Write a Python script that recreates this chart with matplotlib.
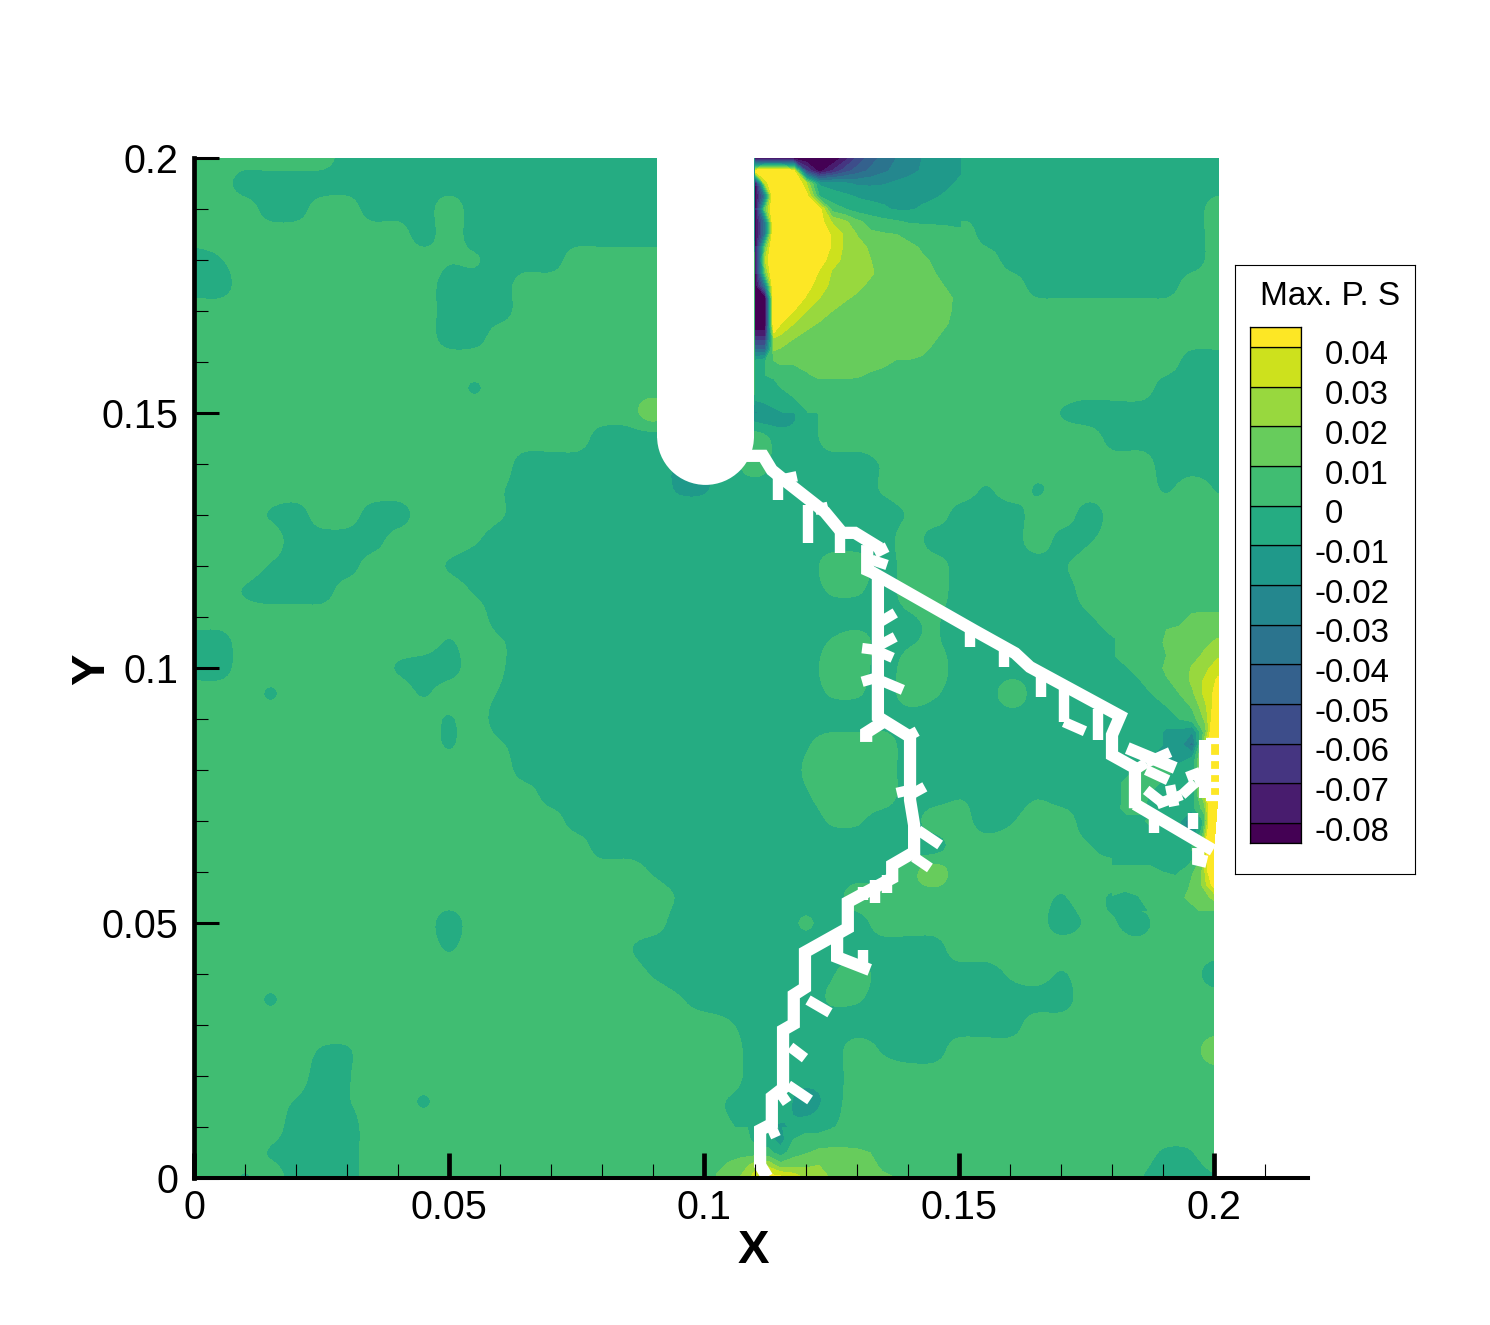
import numpy as np
import matplotlib
matplotlib.use("Agg")
import matplotlib.pyplot as plt
from matplotlib.patches import Rectangle, Wedge
from matplotlib.ticker import MultipleLocator, FixedLocator, FixedFormatter

plt.rcParams['font.family'] = ['Liberation Sans', 'DejaVu Sans']

levels = [-0.08, -0.07, -0.06, -0.05, -0.04, -0.03, -0.02, -0.01, 0, 0.01, 0.02, 0.03, 0.04]
level_labels = ['-0.08', '-0.07', '-0.06', '-0.05', '-0.04', '-0.03', '-0.02', '-0.01', '0', '0.01', '0.02', '0.03', '0.04']
x_ticks = [0, 0.05, 0.1, 0.15, 0.2]
tick_labels = ['0', '0.05', '0.1', '0.15', '0.2']

# band code -> field value in 0.001 units
codes = {'.': 5, '#': -5, 't': -15, 'u': -11, 'e': -1, 'c': 1, 'm': 15}

# field on a 0.005 grid, top row y = 0.2, columns x = 0 .. 0.2
coarse_rows = [
 "..... .#### ##### ##### ##ttt ttttt ##### ##### #",
 "..### ##### ##### ##### ##ttt ttttt ##### ##### #",
 "...## ..### .#### ##### ##ttt ttttt ##### ##### .",
 "..... ....# .#### ##### ##ttt ttttt .#### ##### .",
 "#e... ..... cc### ..... ..... ..... ..### ##### .",
 "##... ..... ###.. ..... ..... ..... ...## ####. .",
 "..... ..... ###.. ..... ..... ..... ..... ..... .",
 "..... ..... ##... ..... ..... ..... ..... ..... .",
 "..... ..... ..... ..... ..... ..... ..... ....# #",
 "..... ..... .e... ..... ..... ..... ..... ...## #",
 "..... ..... ..... ...m. ..tt# ..... ....e ##### #",
 "..... ..... ..... .#### ##.## ..... ..... .#### #",
 "..... ..... ...## ####u u#.## ##c.. ..... ...## #",
 "..... ..... ..c## ####u u#### ##c.. .e.e. ...e. e",
 "...e# ..##. ..c## ##### ##### ###c. ###.. #.... .",
 "....# ###.. .c### ##### ##### ###.# ###.# e.... .",
 "...e# ##... e#### ##### ##### ..#.. ####e ..... .",
 "..e## #.... .e### ##### ##### cc#.. ##### ..... .",
 "..... ..... ..### ##### ##### ###ec ##### e.... .",
 "##... ..... e.c## ##### ##### c.#ec ##### #e... .",
 "##... ...e# #.c## ##### ##### ..#.. ##### ##... .",
 "...e. ....e ..e## ##### ##### cc#.c ##.## ###.. .",
 "..... ..... e.### ##### ##### ##### ##### ##... .",
 "..... ..... e.c## ##### ####e ...## ##### ##... .",
 "..... ..... ...## ##### ####c ...## ##### ##... .",
 "..... ..... ....# ##### ####e ...## e##e# ##... .",
 "..... ..... ..... ##### ##### cc##. .#e.. ###.. .",
 "..... ..... ..... .#### ##### ##### ..... c###. .",
 "..... ..... ..... ...e# ##### ###.m ..... ..... .",
 "..... ..... ..... ....e ##### #.... ....e .e... .",
 "..... ..... #.... ....# ####c ##... ....# cc#.. .",
 "..... ..... e.... ..c## ##### ##### ..... ..... .",
 "..... ..... ..... ...e# ##### e.### ##c.e ..... #",
 "...e. ..... ..... ....c ##### cc### ##### ..... .",
 "..... ..... ..... ..... .c### ##### ###.. ..... .",
 "..... ee... ..... ..... ..### #.e## ..... ..... m",
 "..... #e... ..... ..... ..### #.... ..... ..... .",
 "....e #e..e ..... ..... .e##t #.... ..... ..... .",
 "....# ##... ..... ..... .c#u# e.... ..... ..... .",
 "...e# ##... ..... ..... ..#t. ..... ..... ...ee .",
 "..e.# ##... ..... ..... ..... ..... ..... ..c## e",
]

# fine field right of the notch, columns notch_x, y = 0.2 .. 0.15 in steps of 0.0025
notch_x = [0.11, 0.11196, 0.1137, 0.115, 0.1175, 0.12, 0.1225, 0.125, 0.1275, 0.13, 0.1325, 0.135, 0.1375, 0.14, 0.1425, 0.145, 0.1475, 0.15]
notch_field = [
 [-90,-90,-90,-90,-90,-90,-90,-90,-75,-57,-45,-36,-30,-25,-20,-17,-14,-12],
 [45,60,60,60,45,-60,-85,-70,-55,-45,-38,-32,-27,-23,-19,-15,-14,-11],
 [-90,30,60,60,60,30,-12,-15,-18,-22,-22,-21,-18,-16,-15,-14,-12,-8],
 [-90,-31,60,60,60,45,0,-5,-8,-11,-12,-12,-13,-12,-12,-11,-8,-5],
 [-90,15,60,60,60,60,45,5,0,-5,-7,-9,-11,-11,-9,-6,-4,-3],
 [-90,-31,60,60,60,60,46,29,22,12,6,3,1,-1,-1,-1,-1,-1],
 [-90,-31,60,60,60,60,50,38,28,19,12,11,10,7,4,3,2,1],
 [-90,15,60,60,60,60,52,38,28,24,18,14,12,12,9,6,4,2],
 [-90,30,60,60,60,60,47,33,28,24,20,15,14,13,11,9,5,3],
 [-90,15,60,60,60,55,38,29,26,24,21,17,14,13,12,10,6,4],
 [-90,-31,60,60,60,45,34,28,25,22,18,15,14,13,13,12,9,7],
 [-90,-90,60,60,50,38,30,25,21,18,16,15,14,14,13,13,11,8],
 [-90,-90,60,50,40,30,25,20,17,15,15,15,15,15,15,14,11,7],
 [-90,-90,60,40,30,23,19,16,15,15,15,15,15,15,15,13,10,5],
 [-70,-70,31,28,21,17,15,15,15,15,15,15,15,15,14,11,7,3],
 [-40,-40,21,19,15,15,15,15,15,15,15,15,14,14,12,8,5,3],
 [-5,0,9,12,11,13,14,14,14,13,13,12,9,9,8,6,4,3],
 [-3,0,1,3,6,9,12,12,12,11,9,7,6,5,5,5,4,3],
 [-5,-4,-2,0,3,6,6,6,6,6,6,6,5,5,5,5,5,5],
 [-10,-8,-6,-5,-1,3,5,5,5,5,5,5,5,5,5,5,5,5],
 [-22,-17,-13,-11,-6,-1,5,5,5,5,5,5,5,5,5,5,5,5],
]

# fine field at the right edge: x = 0.18 .. 0.2, y = 0.115 .. 0.0525, step 0.0025
edge_field = [
 [5,5,5,5,5,5,5,5,5],
 [5,5,5,5,5,5,5,5,5],
 [5,5,5,5,5,5,12,13,13],
 [5,5,5,5,10,12,14,15,16],
 [5,5,5,5,12,15,16,18,22],
 [0,5,5,5,10,15,16,22,28],
 [-5,0,5,5,12,15,21,27,36],
 [-5,-5,0,5,9,13,22,32,42],
 [-5,-5,-5,1,5,10,18,33,45],
 [-5,-5,-5,-5,0,5,11,28,50],
 [-5,-5,-5,-5,-5,0,5,22,60],
 [-5,-5,-5,-5,-12,-13,-20,15,80],
 [-5,-5,-5,-5,-12,-15,-35,30,90],
 [-5,-5,-5,-12,-12,-15,-10,35,90],
 [-5,-5,5,5,5,-5,-5,35,90],
 [-5,5,5,5,-5,-5,-5,35,90],
 [-5,5,5,-5,-5,-5,-5,30,90],
 [-5,5,5,-5,-5,-5,-5,15,90],
 [-5,-5,-5,5,-5,-5,-30,0,90],
 [-5,-5,-5,-5,-5,-5,-25,5,90],
 [-5,-5,-5,-5,-5,-5,-5,15,90],
 [-5,-5,-5,-5,-5,-5,-5,10,80],
 [5,5,5,5,0,-2,5,18,60],
 [5,5,5,5,5,5,9,20,45],
 [-1,-5,-1,5,5,5,12,16,22],
 [-3,-5,-5,1,5,5,5,11,12],
]

# fine field at the crack foot: x = 0.1025 .. 0.1375, y = 0 .. 0.01, step 0.0025
foot_field = [
 [5,5,3,-5,-5,-11,-5,-5,-5,-1,5,5,5,5,5],
 [5,5,5,-3,-5,-15,0,5,5,5,5,5,5,5,5],
 [5,5,6,5,3,-5,5,9,12,13,13,12,10,6,5],
 [6,12,16,24,28,14,17,18,20,17,16,15,13,8,5],
 [12,15,22,36,45,45,38,28,25,19,18,16,14,12,10],
]

# crack centre lines, 0.001 units
crack_a_x = [108.0,111.6,113.3,114.9,123.7,127.1,129.6,134.5]
crack_a_y = [141.6,141.6,138.8,137.5,130.6,126.5,126.5,123.5]
crack_b_x = [132.0,132.0,132.9,153.1,161.0,163.9,181.6,180.0,180.0,184.5,184.5]
crack_b_y = [124.1,119.2,118.8,107.3,102.9,100.2,90.6,86.9,82.9,80.4,72.5]
crack_c_x = [134.1,134.1,140.4,140.4,141.2,141.2,136.9,136.9,128.2,128.2,119.8,119.8,117.6,117.6,115.5,115.5,113.3,113.3,111.0,111.0,112.4]
crack_c_y = [117.6,90.4,86.5,74.1,69.2,63.9,61.4,58.8,54.1,49.0,44.3,37.3,35.9,30.2,29.0,17.6,15.9,10.6,9.4,2.5,0.2]
crack_d_x = [184.5,199.8]
crack_d_y = [73.3,64.3]
crack_e_x = [183.0,192.4]
crack_e_y = [84.3,80.4]
crack_f_x = [196.9,196.9,198.6]
crack_f_y = [64.7,62.4,62.0]
crack_g_x = [198.2,198.2]
crack_g_y = [85.9,74.5]
crack_h_x = [135.1,131.8,131.8]
crack_h_y = [89.4,87.3,85.5]
crack_i_x = [126.1,126.1,132.5]
crack_i_y = [47.6,43.3,40.8]

# short side branches: x0, y0, x1, y1 in 0.001 units
branches = [
 (114.9,136.9,118.2,137.6),(114.5,137.5,114.5,132.9),(120.4,132.0,120.4,124.5),(121.8,131.0,124.3,131.6),
 (126.7,127.5,126.7,122.5),(133.5,122.5,135.9,123.7),(132.9,121.2,135.9,120.2),
 (134.5,109.0,137.5,110.8),(134.5,104.5,137.5,106.1),(134.1,103.5,131.0,103.9),(134.5,103.1,137.0,102.0),
 (134.1,98.2,131.0,97.3),(134.5,97.6,139.0,95.7),(139.8,86.5,141.8,87.6),
 (140.4,76.1,137.8,75.5),(140.4,75.1,143.3,76.7),(142.0,68.2,146.3,65.3),(141.2,62.9,144.3,60.8),
 (135.9,59.4,135.9,55.9),(133.5,58.5,133.5,53.9),(131.2,57.0,131.2,54.5),(131.2,44.7,131.2,41.5),
 (120.4,34.9,124.7,32.4),(116.9,25.7,119.8,23.5),(116.5,18.2,120.8,15.3),(114.5,17.3,116.3,14.7),(113.3,9.8,114.1,8.0),
 (152.2,108.0,152.2,104.1),(158.8,104.0,158.8,100.2),(166.1,99.0,166.1,94.3),(170.6,96.0,170.6,89.4),
 (170.6,89.4,174.7,87.6),(177.3,92.0,177.3,85.9),
 (191.4,83.5,186.7,81.4),(186.7,81.4,184.5,80.0),(186.7,80.0,191.0,78.0),
 (188.8,73.3,193.7,75.1),(193.7,75.1,196.3,77.5),(196.3,77.5,198.4,78.4),
 (186.7,76.1,190.0,73.5),(194.7,78.6,197.3,79.6),(188.2,70.8,188.2,67.6),(191.4,77.0,192.2,72.9),(195.9,71.6,195.9,68.4),
]
edge_teeth_y = [85.7,82.4,79.6,77.1,74.5]

band_colors = matplotlib.colormaps['viridis'](np.linspace(0, 1, len(levels) + 1))

W, H = 1490, 1325
fig = plt.figure(figsize=(W / 100, H / 100), dpi=100)
ax = fig.add_axes([194 / W, (H - 1178) / H, (1308 - 194) / W, (1178 - 158) / H])


def shaded(xs, ys, rows):
    X, Y = np.meshgrid(xs, ys)
    X = X + 0.0008 * np.clip((X - 0.11) / 0.09, 0, 1) * np.clip((Y - 0.065) / 0.01, 0, 1)
    ax.contourf(X, Y, np.asarray(rows, float) * 1e-3, levels=levels, colors=band_colors, extend='both', zorder=1)


def cubic_rows(Z, f):
    """Catmull-Rom resampling of the rows of Z to f times the grid; passes through the grid values."""
    n = Z.shape[1]
    t = np.arange((n - 1) * f + 1) / f
    i = np.minimum(t.astype(int), n - 2)
    s = (t - i)[None, :]
    p0, p1, p2, p3 = (Z[:, np.clip(i + d, 0, n - 1)] for d in (-1, 0, 1, 2))
    return 0.5 * (2 * p1 + (p2 - p0) * s + (2 * p0 - 5 * p1 + 4 * p2 - p3) * s ** 2 + (3 * p1 - p0 - 3 * p2 + p3) * s ** 3)


coarse = np.array([[codes[c] for c in r.replace(' ', '')] for r in coarse_rows], float)
fine = cubic_rows(cubic_rows(coarse, 6).T, 6).T
shaded(np.linspace(0, 0.2, fine.shape[1]), np.linspace(0.2, 0, fine.shape[0]), fine)
shaded(np.array(notch_x), np.linspace(0.2, 0.15, 21), notch_field)
shaded(np.linspace(0.18, 0.2, 9), np.linspace(0.115, 0.0525, 26), edge_field)
shaded(np.linspace(0.1025, 0.1375, 15), np.linspace(0.01, 0, 5), foot_field)

# notch
ax.add_patch(Rectangle((0.0908, 0.1450), 0.019, 0.0550, fc='white', ec='none', zorder=2))
ax.add_patch(Wedge((0.1003, 0.1454), 0.0095, 180, 360, fc='white', ec='none', zorder=2))

# crack
for cx, cy in [(crack_a_x, crack_a_y), (crack_b_x, crack_b_y), (crack_c_x, crack_c_y), (crack_d_x, crack_d_y),
               (crack_e_x, crack_e_y), (crack_f_x, crack_f_y), (crack_g_x, crack_g_y), (crack_h_x, crack_h_y),
               (crack_i_x, crack_i_y)]:
    ax.plot(np.array(cx) * 1e-3, np.array(cy) * 1e-3, color='white', lw=8.8, solid_joinstyle='miter',
            solid_capstyle='butt', zorder=2, clip_on=False)
for x0, y0, x1, y1 in branches:
    ax.plot([x0 * 1e-3, x1 * 1e-3], [y0 * 1e-3, y1 * 1e-3], color='white', lw=7.5, solid_capstyle='butt', zorder=2)
for ty in edge_teeth_y:
    ax.plot([0.1984, 0.2012], [ty * 1e-3, ty * 1e-3], color='white', lw=4.5, solid_capstyle='butt', zorder=2)

ax.set_xlim(0, (1308 - 194) / 5100)
ax.set_ylim(0, 0.2)
ax.patch.set_visible(False)
ax.set_axisbelow(False)
for s in ['top', 'right']:
    ax.spines[s].set_visible(False)
ax.spines['left'].set_linewidth(3.4)
ax.spines['bottom'].set_linewidth(2.9)
ax.xaxis.set_major_locator(FixedLocator(x_ticks))
ax.yaxis.set_major_locator(FixedLocator(x_ticks))
ax.xaxis.set_major_formatter(FixedFormatter(tick_labels))
ax.yaxis.set_major_formatter(FixedFormatter(tick_labels))
ax.xaxis.set_minor_locator(MultipleLocator(0.01))
ax.yaxis.set_minor_locator(MultipleLocator(0.01))
ax.tick_params(axis='x', which='major', direction='in', length=18, width=3.4, pad=8, labelsize=28.5)
ax.tick_params(axis='y', which='major', direction='in', length=18, width=2.2, pad=11, labelsize=28.5)
ax.tick_params(which='minor', direction='in', length=10, width=0.8)
ax.set_xlabel('X', fontsize=34, fontweight='bold', va='center', ha='center')
ax.set_ylabel('Y', fontsize=34, fontweight='bold', va='center', ha='center', rotation=90)
ax.xaxis.set_label_coords((753 - 194) / 1114, -(1251 - 1178) / 1020)
ax.yaxis.set_label_coords(-(194 - 92) / 1114, (1178 - 669) / 1020)

# legend
box = fig.add_axes([1235 / W, (H - 874) / H, 180 / W, 609 / H])
box.set_xticks([]); box.set_yticks([])
for s in box.spines.values():
    s.set_linewidth(0.8)
fig.text(1260 / W, (H - 305) / H, 'Max. P. S', fontsize=24, ha='left', va='baseline')

bar = fig.add_axes([1250 / W, (H - 843) / H, 51 / W, 516 / H])
edges = [levels[0] - 0.005] + levels + [levels[-1] + 0.005]
for k, col in enumerate(band_colors):
    bar.barh(edges[k], 1, height=edges[k + 1] - edges[k], left=0, align='edge', color=col, ec='black', lw=0.9)
bar.set_xlim(0, 1)
bar.set_ylim(edges[0], edges[-1])
bar.set_xticks([]); bar.set_yticks([])
for s in bar.spines.values():
    s.set_linewidth(0.9)
for v, lab in zip(levels, level_labels):
    py = 347 + (0.04 - v) / 0.01 * 39.67 + 9
    if lab == '0':
        fig.text(1325 / W, (H - py) / H, lab, fontsize=23.7, ha='left', va='center')
    else:
        fig.text(1389 / W, (H - py) / H, lab, fontsize=23.7, ha='right', va='center')

fig.savefig('out.png', dpi=100)
